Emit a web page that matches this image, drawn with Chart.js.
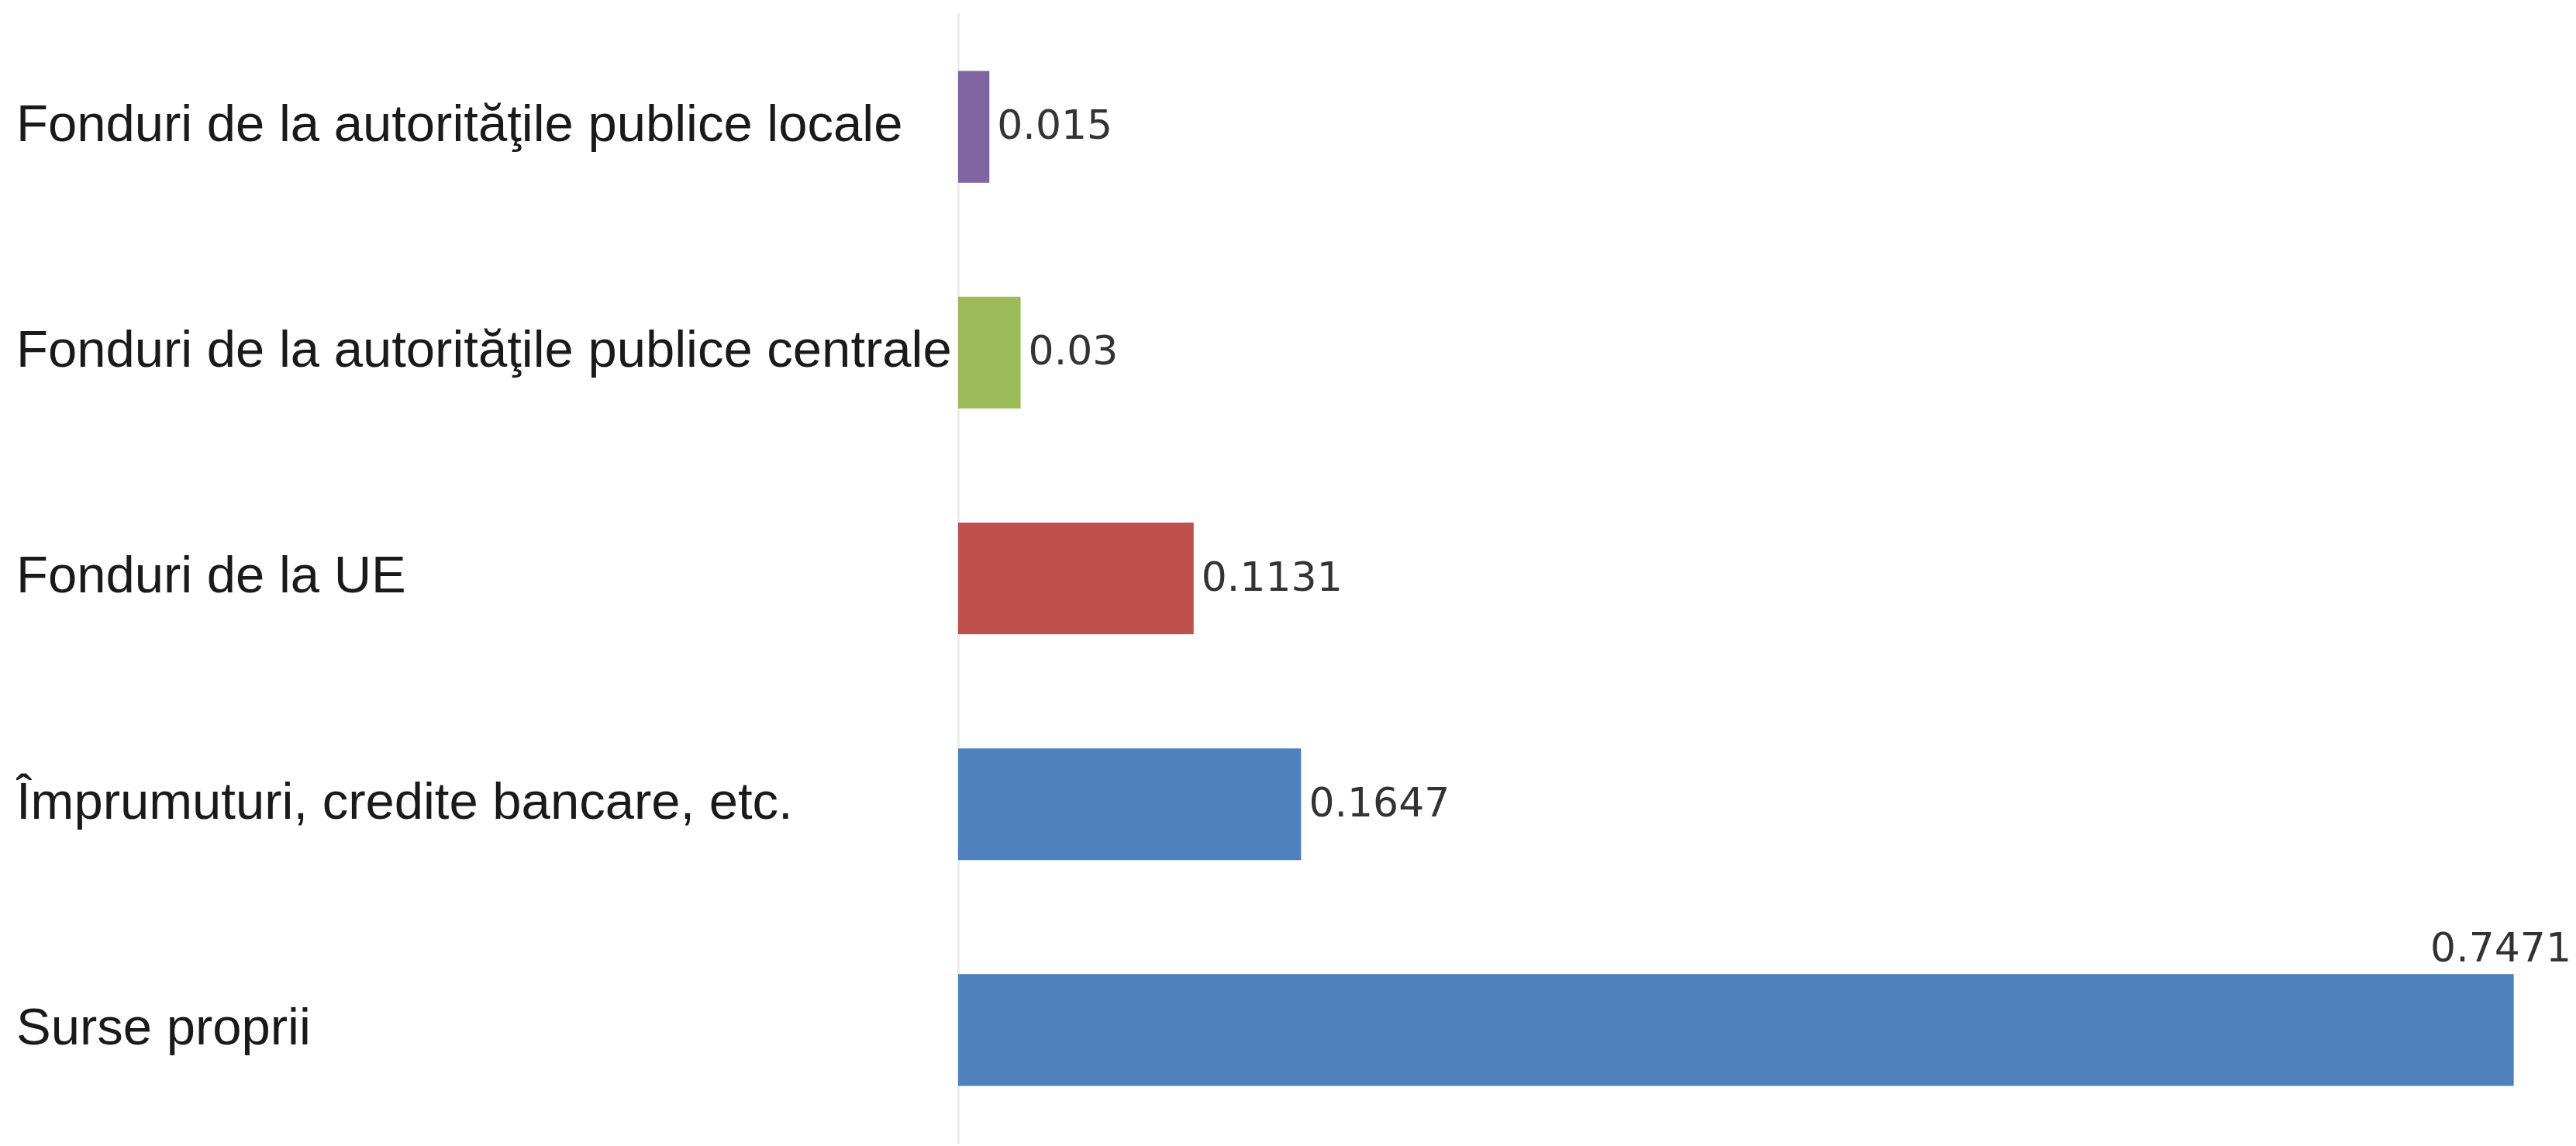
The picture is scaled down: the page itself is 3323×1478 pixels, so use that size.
<!DOCTYPE html>
<html>
<head>
<meta charset="utf-8">
<script src="https://cdn.jsdelivr.net/npm/chart.js@4.4.1/dist/chart.umd.min.js"></script>
<style>
  html, body { margin: 0; padding: 0; background: #ffffff; }
  #wrap { width: 3323px; height: 1478px; }
</style>
</head>
<body>
<div id="wrap"><canvas id="barChart" width="3323" height="1478"></canvas></div>
<script>
// data
var categories = [
  'Fonduri de la autorităţile publice locale',
  'Fonduri de la autorităţile publice centrale',
  'Fonduri de la UE',
  'Împrumuturi, credite bancare, etc.',
  'Surse proprii'
];
var shares = [0.015, 0.03, 0.1131, 0.1647, 0.7471];
var barColors = ['#8064A2', '#9BBB59', '#C0504D', '#4F81BD', '#4F81BD'];

// value labels at the end of each bar, lifted above when there's no room
var valueLabels = {
  id: 'valueLabels',
  afterDatasetsDraw: function(chart) {
    var ctx = chart.ctx
    var meta = chart.getDatasetMeta(0)
    ctx.save()
    ctx.font = '52px "DejaVu Sans"'
    ctx.fillStyle = '#333333'
    meta.data.forEach(function(bar, i) {
      var txt = String(shares[i])
      var w = ctx.measureText(txt).width
      ctx.textAlign = 'left'
      if (bar.x + 12 + w > chart.width - 4) {
        ctx.textBaseline = 'bottom'
        ctx.fillText(txt, chart.width - w - 6, bar.y - bar.height / 2 - 4)
      } else {
        ctx.textBaseline = 'middle'
        ctx.fillText(txt, bar.x + 10, bar.y + 2)
      }
    })
    ctx.restore()
  }
}

var barChartCanvas = document.getElementById('barChart').getContext('2d')
var barChart = new Chart(barChartCanvas, {
  type: 'bar',
  data: {
    labels: categories,
    datasets: [{
      data: shares,
      backgroundColor: barColors,
      borderWidth: 0,
      categoryPercentage: 1.0,
      barPercentage: 0.495
    }]
  },
  options: {
    indexAxis: 'y',
    responsive: false,
    animation: false,
    devicePixelRatio: 1,
    layout: { padding: { top: 18, bottom: 4, left: 21, right: 0 } },
    plugins: {
      legend: { display: false },
      tooltip: { enabled: false }
    },
    scales: {
      x: {
        display: false,
        min: 0,
        max: 0.777
      },
      y: {
        grid: { display: false, drawTicks: false },
        border: { display: true, color: '#ececec', width: 3 },
        ticks: {
          crossAlign: 'far',
          padding: 0,
          color: '#1a1a1a',
          font: { family: '"Liberation Sans", Arial', size: 67 }
        },
        afterFit: function(scale) {
          scale.width = 1215
          scale.paddingTop = 0
          scale.paddingBottom = 0
        }
      }
    }
  },
  plugins: [valueLabels]
})
</script>
</body>
</html>
